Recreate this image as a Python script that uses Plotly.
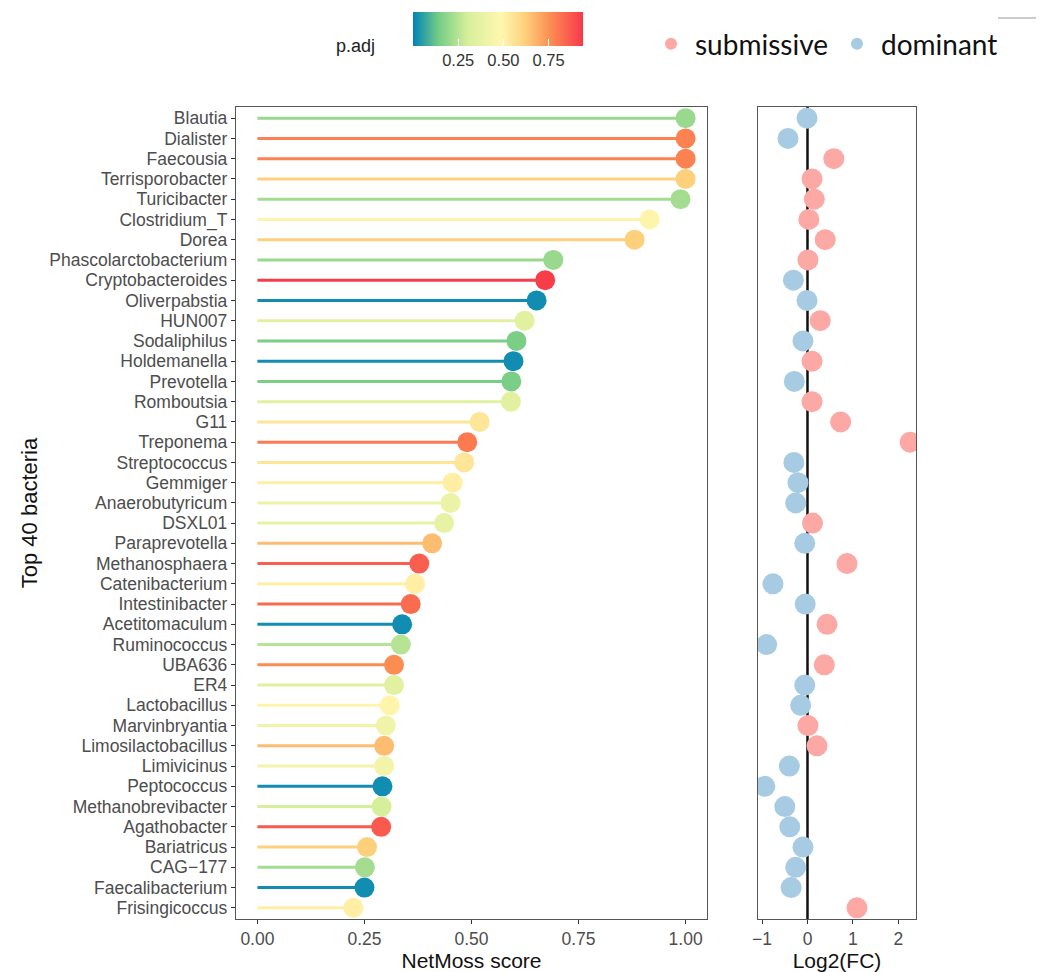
import plotly.graph_objects as go
from plotly.colors import sample_colorscale

bacteria = ["Blautia", "Dialister", "Faecousia", "Terrisporobacter", "Turicibacter",
            "Clostridium_T", "Dorea", "Phascolarctobacterium", "Cryptobacteroides",
            "Oliverpabstia", "HUN007", "Sodaliphilus", "Holdemanella", "Prevotella",
            "Romboutsia", "G11", "Treponema", "Streptococcus", "Gemmiger",
            "Anaerobutyricum", "DSXL01", "Paraprevotella", "Methanosphaera",
            "Catenibacterium", "Intestinibacter", "Acetitomaculum", "Ruminococcus",
            "UBA636", "ER4", "Lactobacillus", "Marvinbryantia", "Limosilactobacillus",
            "Limivicinus", "Peptococcus", "Methanobrevibacter", "Agathobacter",
            "Bariatricus", "CAG\u2212177", "Faecalibacterium", "Frisingicoccus"]

netmoss = [1.00, 1.00, 1.00, 1.00, 0.988, 0.916, 0.881, 0.691, 0.672, 0.652,
           0.624, 0.605, 0.598, 0.593, 0.592, 0.519, 0.490, 0.483, 0.456, 0.451,
           0.436, 0.408, 0.378, 0.368, 0.358, 0.338, 0.335, 0.319, 0.319, 0.309,
           0.300, 0.296, 0.296, 0.292, 0.290, 0.289, 0.256, 0.251, 0.250, 0.224]

p_adj = [0.20, 0.78, 0.78, 0.62, 0.22, 0.50, 0.62, 0.20, 0.93, 0.02,
         0.35, 0.15, 0.02, 0.15, 0.35, 0.55, 0.80, 0.55, 0.52, 0.40,
         0.38, 0.66, 0.86, 0.52, 0.83, 0.02, 0.25, 0.76, 0.35, 0.50,
         0.42, 0.66, 0.43, 0.02, 0.30, 0.87, 0.62, 0.22, 0.02, 0.52]

log2fc = [-0.01, -0.43, 0.58, 0.10, 0.15, 0.03, 0.39, 0.01, -0.31, -0.01,
          0.28, -0.10, 0.10, -0.29, 0.10, 0.73, 2.26, -0.30, -0.21, -0.26,
          0.11, -0.06, 0.87, -0.76, -0.05, 0.43, -0.90, 0.37, -0.06, -0.15,
          0.01, 0.21, -0.40, -0.94, -0.50, -0.39, -0.10, -0.26, -0.36, 1.09]

groups = ["dominant", "dominant", "submissive", "submissive", "submissive",
          "submissive", "submissive", "submissive", "dominant", "dominant",
          "submissive", "dominant", "submissive", "dominant", "submissive",
          "submissive", "submissive", "dominant", "dominant", "dominant",
          "submissive", "dominant", "submissive", "dominant", "dominant",
          "submissive", "dominant", "submissive", "dominant", "dominant",
          "submissive", "submissive", "dominant", "dominant", "dominant",
          "dominant", "dominant", "dominant", "dominant", "submissive"]

colorbar_ticks = [0.25, 0.50, 0.75]

CMIN, CMAX = 0.0, 0.94
cscale = [[0.00, "#0083b8"], [0.15, "#74cc85"], [0.32, "#d6ef9b"],
          [0.52, "#fff7b0"], [0.66, "#fdd07c"], [0.81, "#fc8c52"],
          [1.00, "#f8384a"]]

group_colors = {"submissive": "#fca9a6", "dominant": "#a6cbe2"}

W, H = 1043, 972


def px_x(v):
    return v / W


def px_y(v):
    return 1 - v / H


fig = go.Figure()

norm = [(p - CMIN) / (CMAX - CMIN) for p in p_adj]
seg_cols = sample_colorscale(cscale, norm)

for name, val, col in zip(bacteria, netmoss, seg_cols):
    fig.add_trace(go.Scatter(x=[0, val], y=[name, name], mode="lines",
                             line=dict(color=col, width=3), showlegend=False,
                             hoverinfo="skip", xaxis="x", yaxis="y"))

fig.add_trace(go.Scatter(
    x=netmoss, y=bacteria, mode="markers", showlegend=False,
    marker=dict(size=20, color=p_adj, colorscale=cscale, cmin=CMIN, cmax=CMAX,
                line=dict(width=0),
                colorbar=dict(orientation="h", lenmode="pixels", len=170,
                              thickness=34, x=px_x(498), xanchor="center",
                              y=px_y(12), yanchor="top", xpad=0, ypad=0,
                              outlinewidth=0, tickvals=colorbar_ticks,
                              ticktext=["%.2f" % t for t in colorbar_ticks],
                              ticks="inside", ticklen=7, tickcolor="white",
                              tickwidth=1,
                              tickfont=dict(family="Liberation Sans, Arial",
                                            size=16.5, color="#333333"))),
    xaxis="x", yaxis="y"))

for g in ["submissive", "dominant"]:
    xs = [v for v, gg in zip(log2fc, groups) if gg == g]
    ys = [b for b, gg in zip(bacteria, groups) if gg == g]
    fig.add_trace(go.Scatter(x=xs, y=ys, mode="markers", name=g,
                             marker=dict(size=21, color=group_colors[g], line=dict(width=0)),
                             xaxis="x2", yaxis="y2"))

tickfont = dict(family="Liberation Sans, Arial", size=17.5, color="#4d4d4d")
titlefont = dict(family="Liberation Sans, Arial", size=21, color="#111111")
yrange = [len(bacteria) - 1 + 0.55, -0.55]

fig.update_layout(
    width=W, height=H, margin=dict(l=0, r=0, t=0, b=0),
    paper_bgcolor="white", plot_bgcolor="white",
    xaxis=dict(domain=[px_x(236), px_x(707)], range=[-0.05, 1.05],
               tickvals=[0, 0.25, 0.5, 0.75, 1.0],
               ticktext=["0.00", "0.25", "0.50", "0.75", "1.00"],
               ticks="outside", ticklen=4, tickcolor="#333333", tickfont=tickfont,
               showgrid=False, zeroline=False, showline=True, mirror=True,
               linecolor="#555555", linewidth=1.3,
               title=dict(text="NetMoss score", font=titlefont, standoff=4),
               automargin=False, anchor="y"),
    yaxis=dict(domain=[px_y(919), px_y(107)], type="category",
               categoryorder="array", categoryarray=bacteria, range=yrange,
               tickmode="array", tickvals=bacteria, ticktext=bacteria,
               ticks="outside", ticklen=4, tickcolor="#333333", tickfont=tickfont,
               showgrid=False, zeroline=False, showline=True, mirror=True,
               linecolor="#555555", linewidth=1.3,
               title=dict(text="Top 40 bacteria", font=dict(family="Liberation Sans, Arial",
                                                            size=22, color="#111111"),
                          standoff=5),
               automargin=False, anchor="x"),
    xaxis2=dict(domain=[px_x(758), px_x(916)], range=[-1.09, 2.39],
                tickvals=[-1, 0, 1, 2], ticktext=["\u22121", "0", "1", "2"],
                ticks="outside", ticklen=4, tickcolor="#333333", tickfont=tickfont,
                showgrid=False, zeroline=False, showline=True, mirror=True,
                linecolor="#555555", linewidth=1.3,
                title=dict(text="Log2(FC)", font=titlefont, standoff=4),
                automargin=False, anchor="y2"),
    yaxis2=dict(domain=[px_y(919), px_y(107)], type="category",
                categoryorder="array", categoryarray=bacteria, range=yrange,
                showticklabels=False, ticks="",
                showgrid=False, zeroline=False, showline=True, mirror=True,
                linecolor="#555555", linewidth=1.3,
                automargin=False, anchor="x2"),
    legend=dict(orientation="h", x=px_x(647), xanchor="left", y=px_y(44),
                yanchor="middle", font=dict(family="Lato, Noto Sans", size=28, color="#111111"),
                itemsizing="constant", bgcolor="rgba(0,0,0,0)", itemwidth=38,
                tracegroupgap=0),
    annotations=[dict(text="p.adj", x=px_x(377), y=px_y(46), xref="paper", yref="paper",
                      xanchor="right", yanchor="middle", showarrow=False,
                      font=dict(family="Liberation Sans, Arial",
                                size=18, color="#222222"))],
    shapes=[dict(type="line", xref="x2", yref="y2 domain", x0=0, x1=0, y0=0, y1=1,
                 line=dict(color="#111111", width=2.5), layer="below"),
            dict(type="line", xref="paper", yref="paper", x0=px_x(998), x1=px_x(1036),
                 y0=px_y(18), y1=px_y(18), line=dict(color="#cccccc", width=2))],
)

fig.write_html("out.html")
